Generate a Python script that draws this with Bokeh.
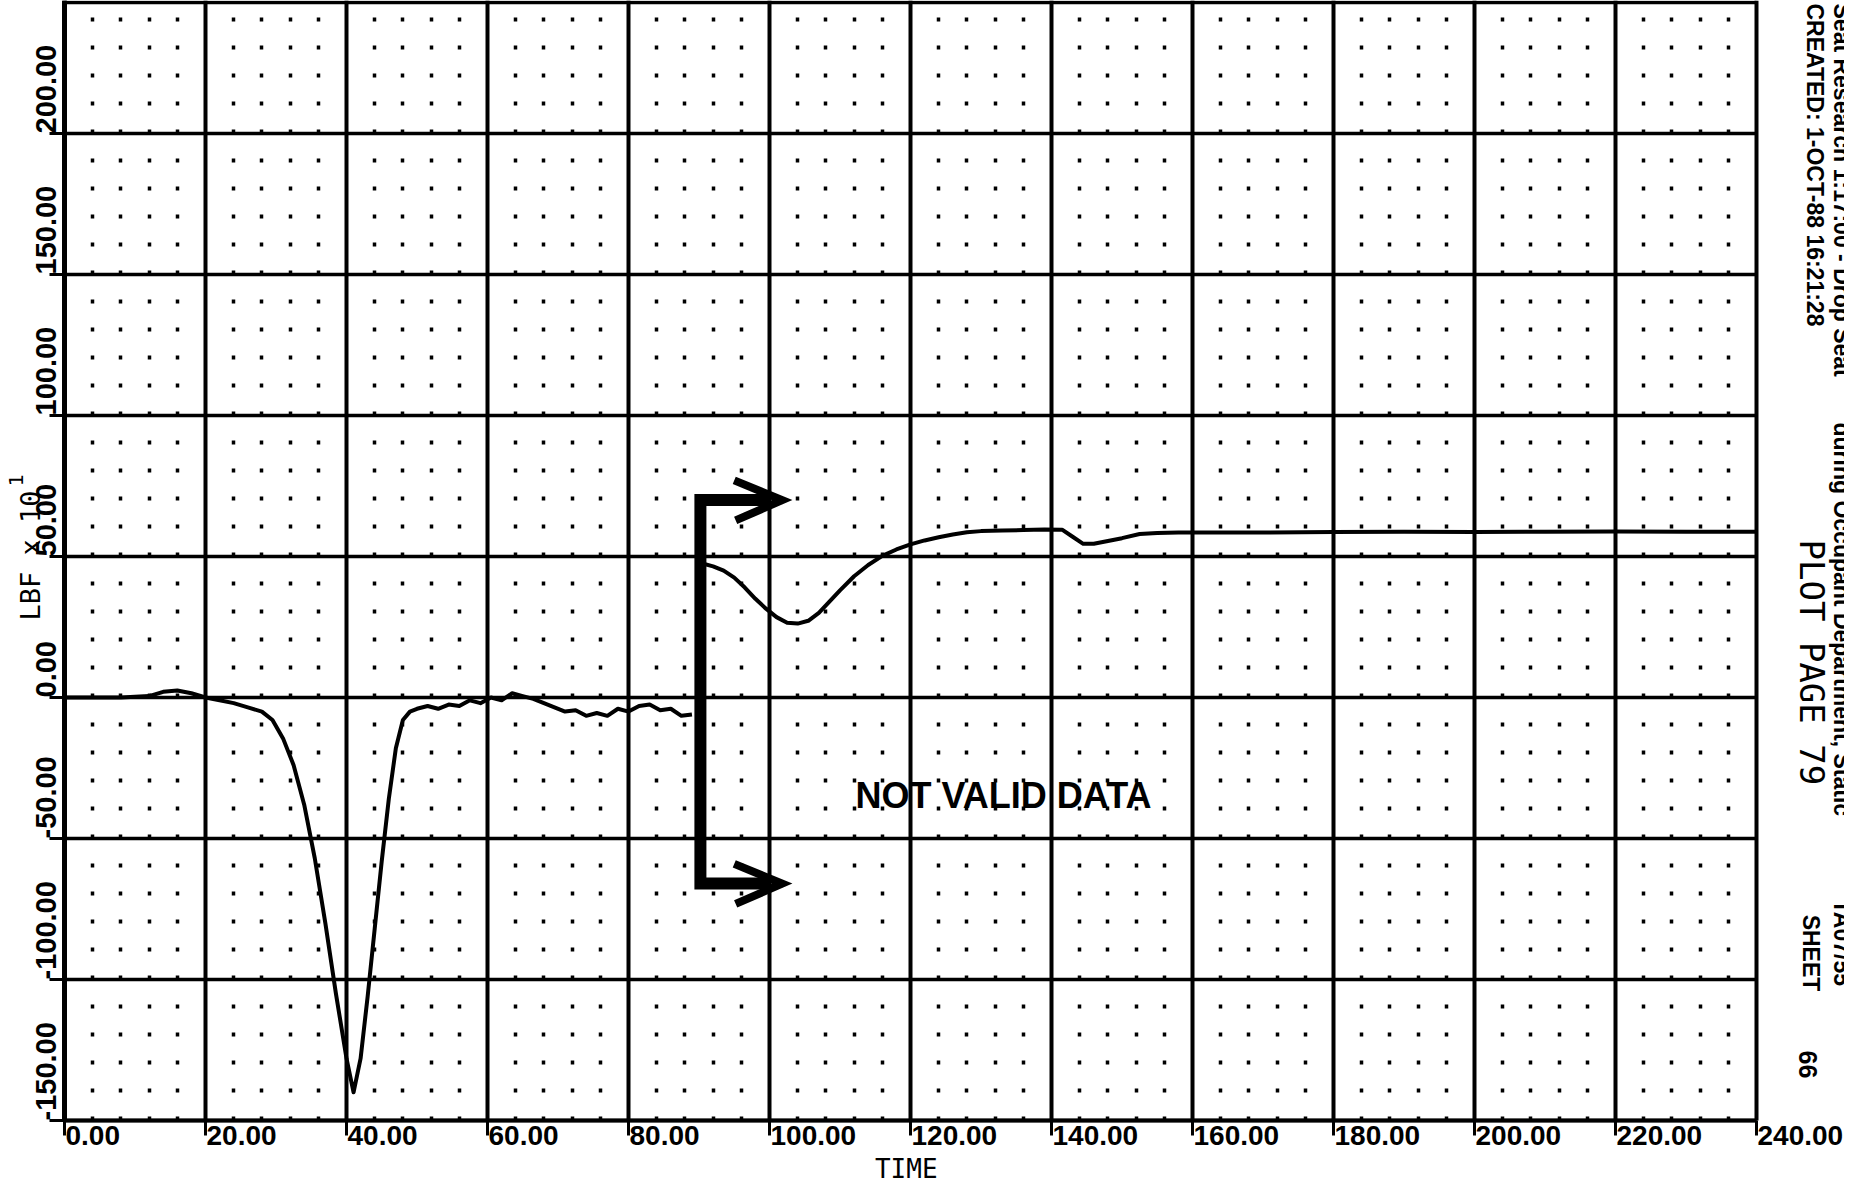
import math
from bokeh.plotting import figure
from bokeh.models import (FixedTicker, Label, LabelSet, ColumnDataSource, Range1d,
                          LinearAxis, Grid)
from bokeh.core.properties import value
from bokeh.embed import file_html
from bokeh.resources import INLINE

# ---------------- data ----------------
x_tick_values = [0, 20, 40, 60, 80, 100, 120, 140, 160, 180, 200, 220, 240]
x_tick_labels = ["0.00", "20.00", "40.00", "60.00", "80.00", "100.00", "120.00",
                 "140.00", "160.00", "180.00", "200.00", "220.00", "240.00"]
y_tick_values = [-150, -100, -50, 0, 50, 100, 150, 200]
y_tick_labels = ["-150.00", "-100.00", "-50.00", "0.00", "50.00", "100.00", "150.00", "200.00"]

# segment before the gap (0 .. ~89)
seg1_time = [0, 4, 8, 12, 14, 16, 18, 20, 22, 24, 26, 28, 29.5, 31, 32.5, 34, 35.5, 37,
             38.5, 40, 41, 42, 43, 44, 45, 46, 47, 48, 49, 50, 51.5, 53, 54.5, 56, 57.5,
             59, 60.5, 62, 63.5, 65, 66.5, 68, 69.5, 71, 72.5, 74, 75.5, 77, 78.5, 80,
             81.5, 83, 84.5, 86, 87.5, 89]
seg1_lbf = [0, 0, 0, 0.5, 2, 2.5, 1.5, 0, -1, -2, -3.5, -5, -8, -14.5, -24, -38, -57, -80,
            -105, -128, -140, -128, -106, -82, -58, -36, -18, -8, -5, -4, -3, -4, -2.5,
            -3, -1, -2, 0, -1, 1.5, 0.5, -0.5, -2, -3.5, -5, -4.5, -6.5, -5.5, -6.5, -4,
            -5, -3, -2.5, -4.5, -4, -6.5, -6]

# segment after the gap
seg2_time = [90.5, 92, 93.5, 95, 96.5, 98, 99.5, 101, 102.5, 104, 105.5, 107, 108.5, 110,
             112, 114, 116, 118, 120, 122, 124, 126, 128, 130, 133, 136, 139, 141.5, 143,
             144.5, 146, 148, 150, 152.5, 155, 158, 162, 170, 180, 190, 200, 210, 220, 230,
             240]
seg2_lbf = [47.5, 46.5, 45, 42.5, 39, 35, 31.5, 28.5, 26.5, 26.2, 27.2, 30, 34, 38, 43, 47,
            50.2, 52.5, 54.3, 55.7, 56.8, 57.8, 58.6, 59, 59.2, 59.4, 59.6, 59.5, 57, 54.5,
            54.5, 55.5, 56.5, 58, 58.3, 58.5, 58.5, 58.5, 58.7, 58.8, 58.7, 58.8, 58.9,
            58.8, 58.8]

# "not valid data" bracket with arrows
bracket_time = [100.0, 90.2, 90.2, 100.0]
bracket_lbf = [70, 70, -66, -66]
arrow_heads_time = [[95.0, 101.8, 95.2], [95.0, 101.8, 95.2]]
arrow_heads_lbf = [[77.0, 70.0, 62.8], [-59.0, -66.0, -73.2]]

x_axis_title = "TIME"
y_axis_title = "LBF x 10"
y_axis_exponent = "1"
note_text = "NOT VALID DATA"
created_text = "CREATED: 1-OCT-88 16:21:28"
plot_page_text = "PLOT PAGE  79"
sheet_text = "SHEET"
sheet_number = "66"
cut_texts = ["Seat Research 1:17:00 - Drop Seat", "during Occupant Department, Static",
             "TA07/55"]

# ---------------- geometry / styling ----------------
BOLD = "Liberation Sans"
MONO = "DejaVu Sans Mono"
PX_X = 7.05          # pixels per time unit
PX_Y = 2.82          # pixels per lbf unit
W, H = 1844, 1186
LEFT_PX, BOTTOM_PX = 64, 1120     # canvas position of (0, -150)
X0 = -LEFT_PX / PX_X
X1 = X0 + W / PX_X
Y_TOP = -150 + BOTTOM_PX / PX_Y
Y_BOT = Y_TOP - H / PX_Y
X_MIN, X_MAX, Y_MIN = 0, 240, -150

p = figure(frame_width=W, frame_height=H, x_range=Range1d(X0, X1),
           y_range=Range1d(Y_BOT, Y_TOP), x_axis_location=None, y_axis_location=None,
           output_backend="svg", toolbar_location=None,
           min_border_left=0, min_border_right=0, min_border_top=0, min_border_bottom=0,
           background_fill_color="white", border_fill_color="white",
           outline_line_color=None)
# drop the figure's default (light grey) grids
for g in list(p.center):
    if isinstance(g, Grid):
        p.center.remove(g)

x_minor = [v for v in range(X_MIN, X_MAX + 1, 4) if v % 20 != 0]

# major grid lines
p.add_layout(Grid(dimension=0, ticker=FixedTicker(ticks=x_tick_values),
                  cross_bounds=(Y_MIN, Y_TOP), grid_line_color="black", grid_line_width=4))
p.add_layout(Grid(dimension=1, ticker=FixedTicker(ticks=y_tick_values),
                  cross_bounds=(X_MIN, X_MAX), grid_line_color="black", grid_line_width=3.5))
# top border of the chart area
p.add_layout(Grid(dimension=1, ticker=FixedTicker(ticks=[Y_TOP - 0.6]),
                  cross_bounds=(X_MIN, X_MAX), grid_line_color="black", grid_line_width=3.5))
# dotted minor lattice
p.add_layout(Grid(dimension=0, ticker=FixedTicker(ticks=[], minor_ticks=x_minor),
                  cross_bounds=(Y_MIN, Y_TOP), grid_line_color=None,
                  minor_grid_line_color="black", minor_grid_line_width=3.5,
                  minor_grid_line_dash="4 24 4 24 4 24 4 24 4 25"))

# axes (tick marks only; labels are drawn below as text)
xax = LinearAxis(fixed_location=Y_MIN, bounds=(X_MIN, X_MAX),
                 ticker=FixedTicker(ticks=[], minor_ticks=x_tick_values),
                 axis_line_width=4, axis_line_color="black",
                 minor_tick_out=15, minor_tick_in=0, minor_tick_line_width=3,
                 minor_tick_line_color="black", major_tick_out=0, major_tick_in=0)
yax = LinearAxis(fixed_location=X_MIN, bounds=(Y_MIN, Y_TOP),
                 ticker=FixedTicker(ticks=[], minor_ticks=y_tick_values),
                 axis_line_width=5, axis_line_color="black",
                 minor_tick_out=15, minor_tick_in=0, minor_tick_line_width=3,
                 minor_tick_line_color="black", major_tick_out=0, major_tick_in=0)
p.add_layout(xax, "below")
p.add_layout(yax, "left")

# data curves
p.line(seg1_time, seg1_lbf, line_color="black", line_width=4, line_join="round")
p.line(seg2_time, seg2_lbf, line_color="black", line_width=4, line_join="round")

# bracket and arrows
p.line(bracket_time, bracket_lbf, line_color="black", line_width=12, line_join="miter")
p.multi_line(arrow_heads_time, arrow_heads_lbf, line_color="black", line_width=8,
             line_join="miter")

# tick labels
ysrc = ColumnDataSource(dict(y=y_tick_values, text=y_tick_labels))
p.add_layout(LabelSet(x=X_MIN, y="y", text="text", source=ysrc, x_offset=-9,
                      angle=math.pi / 2, text_align="left", text_baseline="alphabetic",
                      text_font=value(BOLD), text_font_style="bold",
                      text_font_size="29px", text_color="black"))
xsrc = ColumnDataSource(dict(x=x_tick_values, text=x_tick_labels))
p.add_layout(LabelSet(x="x", y=Y_MIN, text="text", source=xsrc, x_offset=1, y_offset=-5,
                      text_align="left", text_baseline="top",
                      text_font=value(BOLD), text_font_style="bold",
                      text_font_size="28px", text_color="black"))

# axis titles
p.add_layout(Label(x=119.4, y=Y_MIN, y_offset=-33, text=x_axis_title, text_align="center",
                   text_baseline="top", text_font=MONO, text_font_size="26px",
                   text_color="black"))
p.add_layout(Label(x=X_MIN, y=27.3, x_offset=-34, text=y_axis_title, angle=math.pi / 2,
                   text_align="left", text_baseline="alphabetic", text_font=MONO,
                   text_font_size="27px", text_color="black"))
p.add_layout(Label(x=X_MIN, y=74.8, x_offset=-49, text=y_axis_exponent, angle=math.pi / 2,
                   text_align="left", text_baseline="alphabetic", text_font=MONO,
                   text_font_size="20px", text_color="black"))

# note
p.add_layout(Label(x=112.2, y=-34.75, text=note_text, text_align="left",
                   text_baseline="alphabetic", text_font=BOLD, text_font_style="bold",
                   text_font_size="36px", text_color="black"))


# right-hand header texts (rotated, reading downwards)
def side(text, y, xoff, font, size, bold=False, yoff=0):
    p.add_layout(Label(x=X_MAX, y=y, x_offset=xoff, y_offset=yoff, text=text,
                       angle=-math.pi / 2, text_align="left", text_baseline="alphabetic",
                       text_font=font, text_font_style="bold" if bold else "normal",
                       text_font_size=size, text_color="black"))


side(created_text, Y_TOP, 58, BOLD, "23px", bold=True, yoff=-3)
side(plot_page_text, 56.0, 55, MONO, "34px")
side(sheet_text, -77.0, 54, BOLD, "23px", bold=True)
side(sheet_number, -125.2, 51, BOLD, "25px", bold=True)
side(cut_texts[0], Y_TOP, 85, BOLD, "23px", bold=True, yoff=-3)
side(cut_texts[1], (1128 - 430) / PX_Y - 150, 85, BOLD, "23px", bold=True)
side(cut_texts[2], (1128 - 907) / PX_Y - 150, 85, BOLD, "23px", bold=True)

open("out.html", "w").write(file_html(p, INLINE))
